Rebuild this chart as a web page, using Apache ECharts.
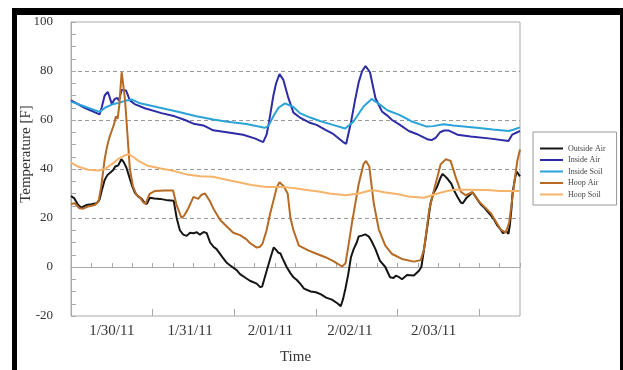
<!DOCTYPE html>
<html>
<head>
<meta charset="utf-8">
<script src="https://cdn.jsdelivr.net/npm/echarts@6/dist/echarts.min.js"></script>
<style>
  html, body { margin: 0; padding: 0; width: 623px; height: 370px; overflow: hidden; background: #fff; }
  #frame { position: absolute; left: 12px; top: 8px; width: 603px; height: 420px;
           border-left: 5px solid #000; border-top: 7px solid #000; border-right: 8px solid #000; }
  #chart { position: absolute; left: 0; top: 0; width: 623px; height: 370px; }
</style>
</head>
<body>
<div id="frame"></div>
<div id="chart"></div>
<script>
// Time axis in hours from the start of the record (major tick = midnight, minor = 6 h)
const dayLabels = ['1/30/11', '1/31/11', '2/01/11', '2/02/11', '2/03/11'];
const dayLabelHours = [12, 35, 58.6, 82, 106.6];
const majorTickHours = [24, 48, 72, 96, 120];
const seriesNames = ['Outside Air', 'Inside Air', 'Inside Soil', 'Hoop Air', 'Hoop Soil'];

const outsideAir = [[0,29],[1,28],[2,25.5],[3,24.2],[4.5,25.3],[6,25.6],[7.5,26],[8.4,27.5],[9,31],[9.9,35.5],[10.7,37.5],[11.5,38.5],[12.4,39.6],[13,41],[13.9,41.5],[14.8,44],[15.5,42.8],[16.3,40.5],[17.3,36],[18,33],[18.8,30.3],[19.7,28.8],[20.8,27.8],[21.7,26],[22.3,25.8],[23.2,28.3],[24.5,28],[26.2,27.8],[28.5,27.2],[30.2,27],[31.1,19.8],[32,15],[33,13.2],[34,12.7],[35,14],[36,13.8],[37,14.2],[37.9,13.2],[39,14.3],[39.9,13.8],[40.9,10],[41.8,8.4],[42.8,7.3],[44.5,4],[45.8,1.7],[46.7,0.7],[48.7,-1.3],[49.7,-2.9],[51.6,-4.7],[52.6,-5.6],[54.6,-6.8],[55.6,-8.2],[56.2,-8],[56.6,-6],[57.7,-0.7],[58.8,4.5],[59.6,8],[60.3,7],[61,5.8],[61.6,5.5],[62.2,3.5],[63.4,0],[64.5,-2.5],[65.4,-4.2],[66.4,-5.3],[67.5,-7],[68.5,-8.8],[70.5,-10],[72,-10.3],[73.5,-11.2],[75,-12.5],[76.7,-13.3],[78.3,-14.8],[79.3,-16],[80,-13],[80.7,-8.7],[81.5,-3],[82.3,4],[83.1,7.3],[84,10],[84.6,12.5],[85.5,12.8],[86.5,13.3],[87.5,12.5],[88.2,11],[89.5,7.3],[90.8,2.6],[92.4,0],[93.8,-4.2],[94.8,-4.5],[95.5,-3.5],[96.3,-4],[97.3,-5],[98.8,-3.3],[100.8,-3.5],[102.3,-1.5],[103,0],[104.3,12],[105.3,22],[105.7,26],[106.5,30],[107.6,32.7],[108.5,36],[109.2,38],[110,37],[110.7,36],[111.8,34],[112.7,31],[113.6,28.7],[114.6,26.3],[115.2,26],[116.3,28.3],[117.3,29.5],[118,30.5],[118.8,29],[119.5,27.5],[120.5,25.5],[121.3,24.5],[122.4,22.7],[123.5,21],[124.4,19.3],[125.3,17],[126.2,15.5],[127,13.8],[128,14.5],[128.6,13.5],[129,17],[129.5,24],[129.8,30],[130.5,36],[131,39],[131.5,38.5],[132,37]];

const insideAir = [[0,68],[4,65],[8.4,62.3],[9,65],[9.9,70],[10.8,71.5],[11.2,70],[12,66.5],[12.8,68.5],[13.6,69],[14.1,68],[14.9,72.3],[16.2,72],[17.3,68],[18.7,66.5],[21.7,64.8],[26.6,62.8],[30.5,61.5],[33.5,60],[36,58.5],[38.9,57.8],[41.8,55.8],[45.8,55],[50.6,54],[54,52.5],[56.5,51],[57.5,54],[58.2,59],[59.5,70],[60.3,75],[61.3,78.7],[62.4,76.5],[63.9,69],[65.4,63],[67.3,61],[70,59],[72.2,58],[74.8,56],[77.1,54.3],[80,51],[80.9,50.3],[82.3,59],[83.5,68],[84.6,75.5],[85.6,80],[86.6,82],[87.9,79.5],[89.5,69],[91.4,63.5],[92.8,62],[94.4,60],[96.7,58],[99.3,55.5],[101.6,54.3],[105,52],[106,51.8],[107.2,52.7],[108.5,55],[109.7,55.7],[111.1,55.7],[113.6,54],[117.5,53.3],[123.4,52.4],[128.6,51.4],[129.7,54],[132,55.5]];

const insideSoil = [[0,67.5],[4,65.5],[8.4,63.3],[10,65],[12,66.3],[14,67],[16.4,68],[17.8,68.4],[20.3,66.8],[26.2,65],[31.1,63.5],[36.9,61.5],[41.8,60.2],[46,59.3],[51.6,58.4],[56.9,56.8],[58,57.5],[59.5,61.5],[61,65],[62.9,66.8],[65.4,65.3],[67.3,62.8],[70.3,61],[73.2,59.6],[77,58],[80.6,56.5],[83,59.3],[86,65.5],[88.4,68.6],[90.8,66.3],[93,64],[96.7,62],[100,59.5],[104.6,57.3],[106.5,57.5],[109.5,58.3],[112.4,57.8],[119.3,56.8],[124,56.1],[128.6,55.5],[130,56],[132,57]];

const hoopAir = [[0,25.7],[1.1,26],[2.5,24],[3.5,23.8],[5,24.7],[7,25.3],[8.1,26.7],[8.9,33],[9.9,44],[10.5,48.5],[11.2,52.5],[11.9,55.3],[12.6,58],[13.2,61.5],[13.7,60.5],[14.2,66],[14.6,74],[14.9,79.5],[15.3,75],[15.9,68],[16.6,54],[17.3,40],[18.2,33],[19.2,29.5],[20.2,28.5],[21.2,26.5],[21.9,25.8],[23.1,29.8],[24.6,31],[27.5,31.2],[30,31.2],[31,25.5],[32.5,20],[33.3,21],[34.5,24],[36,28.6],[37.4,27.8],[38.4,29.5],[39.4,30],[40.9,26.7],[41.8,24],[43.8,19.3],[45.8,16.5],[47.7,14],[49.7,13],[51.6,11.3],[52.6,9.8],[54.6,7.9],[55.6,8.3],[56.3,9.5],[57.5,15],[58.5,21.5],[60.5,32.5],[61.3,34.6],[62.5,33],[63.7,30],[64.5,20],[65.4,15],[67,8.7],[69.9,6.7],[72,5.5],[74.8,4],[77,2.5],[79.7,0.2],[80.7,1.5],[81.6,9],[82.6,18],[84.6,34],[86,42],[86.7,43.3],[87.7,41],[89,26],[90.5,15.3],[92.4,8.7],[94.4,5.3],[97.3,3.3],[100.8,2.2],[102.8,2.8],[103.8,7.3],[105.3,23.3],[106.7,31.3],[108.7,42],[110.2,44],[111.6,43.3],[113.1,36.7],[114.6,30.7],[116,29.3],[118,30.5],[120,26.7],[123.4,22],[126.3,15.3],[127.8,14],[128.8,18],[130.3,34],[131.2,43.3],[132,48]];

const hoopSoil = [[0,42.7],[2,41],[5,39.7],[8,39.4],[10,40],[12,42],[13.8,44],[15.8,45.6],[17,46],[18.2,45],[20.2,43],[22.6,41.3],[26.4,40.2],[30,39.3],[34,37.8],[38,37],[41.8,36.8],[46,35.5],[49.7,34.5],[53,33.5],[57.5,32.7],[61.4,32.7],[63.5,32.5],[66.4,32],[70.3,31.2],[72.8,30.8],[76,30],[80.7,29.3],[84.6,30],[87.9,31.2],[89.5,31.2],[92,30.5],[95.8,29.8],[99.3,28.8],[103.6,28.3],[105.5,29],[107.7,30],[110,30.8],[112.6,31.5],[116.3,31.5],[122.4,31.4],[126.1,31],[132,31]];

const seriesData = [outsideAir, insideAir, insideSoil, hoopAir, hoopSoil];
const seriesColors = ['#151515', '#2d2ca6', '#2ba3d8', '#b66a24', '#f6b46a'];

const FONT = '"Liberation Serif", "Times New Roman", serif';
const chart = echarts.init(document.getElementById('chart'), null, { renderer: 'canvas' });

chart.setOption({
  backgroundColor: 'transparent',
  animation: false,
  grid: { left: 71, top: 22, width: 449, height: 299, show: true, borderColor: '#aaa', borderWidth: 1, backgroundColor: 'transparent' },
  legend: {
    orient: 'vertical', left: 533, top: 132,
    data: seriesNames,
    icon: 'rect', itemWidth: 23, itemHeight: 2, itemGap: 2.5,
    padding: [12, 11, 6, 7],
    borderColor: '#999', borderWidth: 1,
    textStyle: { fontFamily: FONT, fontSize: 8, color: '#444', lineHeight: 9 }
  },
  xAxis: [{
    type: 'value', min: 0, max: 132, interval: 6, position: 'bottom',
    name: 'Time', nameLocation: 'middle', nameGap: 34, nameMoveOverlap: false,
    nameTextStyle: { fontFamily: FONT, fontSize: 15, color: '#333' },
    axisLine: { show: true, lineStyle: { color: '#aaa', width: 1 } },
    axisTick: { show: true, inside: true, length: 4, lineStyle: { color: '#aaa' } },
    splitLine: { show: false },
    axisLabel: {
      customValues: dayLabelHours, margin: 8,
      fontFamily: FONT, fontSize: 15, color: '#333',
      formatter: function (v) { const i = dayLabelHours.indexOf(v); return i >= 0 ? dayLabels[i] : ''; }
    }
  }, {
    type: 'value', min: 0, max: 132, position: 'bottom',
    axisLine: { show: false },
    axisTick: { show: true, inside: true, length: 7, customValues: majorTickHours, lineStyle: { color: '#aaa' } },
    axisLabel: { show: false },
    splitLine: { show: false }
  }],
  yAxis: {
    type: 'value', min: -20, max: 100, interval: 20,
    name: 'Temperature [F]', nameLocation: 'middle', nameGap: 37, nameRotate: 90, nameMoveOverlap: false,
    nameTextStyle: { fontFamily: FONT, fontSize: 15, color: '#333', padding: [0, 0, 0, 30] },
    axisLine: { show: true, lineStyle: { color: '#aaa', width: 1 } },
    axisTick: { show: true, inside: true, length: 5, lineStyle: { color: '#aaa' } },
    minorTick: { show: true, splitNumber: 4, length: 5, lineStyle: { color: '#aaa' } },
    splitLine: { show: true, showMinLine: false, showMaxLine: false, lineStyle: { color: '#999', type: [4, 3], width: 1 } },
    axisLabel: { margin: 18, fontFamily: FONT, fontSize: 13, color: '#333' }
  },
  series: seriesNames.map((name, i) => ({
    name: name, type: 'line', xAxisIndex: 0, data: seriesData[i],
    showSymbol: false, symbol: 'none', color: seriesColors[i],
    lineStyle: { color: seriesColors[i], width: 2 }
  }))
});
</script>
</body>
</html>
